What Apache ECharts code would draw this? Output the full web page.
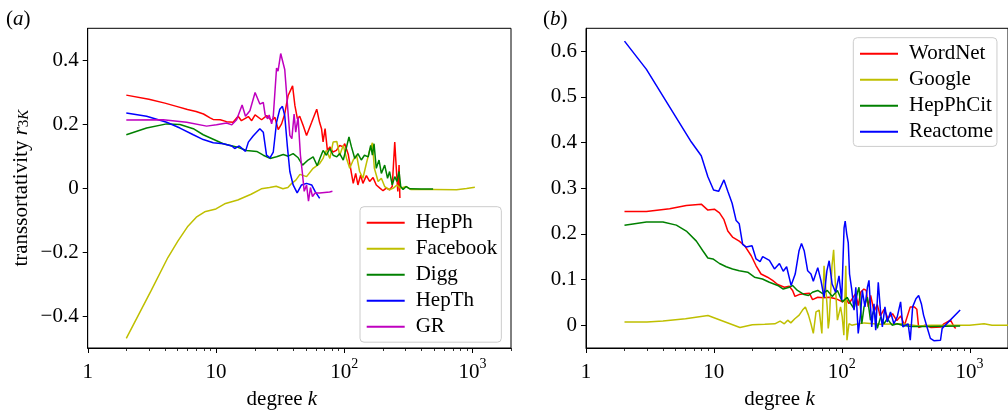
<!DOCTYPE html>
<html><head><meta charset="utf-8">
<script src="https://cdn.jsdelivr.net/npm/echarts@6/dist/echarts.min.js"></script>
<style>html,body{margin:0;padding:0;background:#fff;} #c{width:1008px;height:415px;}</style>
</head><body><div id="c"></div>
<script>
// ---------- data ----------
const xMajorTicks = [1, 10, 100, 1000];
const xMajorLabels = ['1', '10', '10{sup|2}', '10{sup|3}'];
const xMinorTicks = [2,3,4,5,6,7,8,9,20,30,40,50,60,70,80,90,200,300,400,500,600,700,800,900,2000];
const yTicksA = [-0.4, -0.2, 0, 0.2, 0.4];
const yTicksB = [0, 0.1, 0.2, 0.3, 0.4, 0.5, 0.6];
const namesA = ['HepPh', 'Facebook', 'Digg', 'HepTh', 'GR'];
const namesB = ['WordNet', 'Google', 'HepPhCit', 'Reactome'];

const hepPh = [[2,0.291],[3,0.278],[4,0.266],[5,0.255],[6,0.246],[7,0.24],[8,0.232],[9,0.22],[9.5,0.215],[10.8,0.214],[12.1,0.208],[13.6,0.206],[14.9,0.225],[15.8,0.211],[17.9,0.224],[19,0.211],[20.2,0.229],[22.7,0.214],[24.9,0.227],[27.2,0.211],[28.8,0.222],[30.6,0.183],[32.5,0.201],[34.4,0.232],[36.5,0.289],[39.6,0.32],[41.3,0.258],[43.2,0.217],[45,0.225],[47.9,0.196],[50.9,0.165],[55.8,0.206],[61.1,0.247],[64.3,0.206],[66.6,0.186],[68.5,0.145],[71,0.186],[74,0.118],[77.4,0.129],[81.8,0.113],[87,0.118],[92.3,0.134],[98,0.129],[101,0.139],[107.7,0.105],[114,0.046],[117.7,0.015],[123,0.046],[128,0.01],[134.5,0.041],[140,0.015],[149,0.039],[158,0.021],[168,0.033],[178,0.01],[190,0],[201,-0.008],[213,0],[226,-0.005],[237,0.005],[248,0.144],[255,0.062],[262,-0.01],[268,0.072],[272,-0.031]];
const facebook = [[2,-0.47],[3.13,-0.32],[4.22,-0.217],[5.06,-0.165],[6.05,-0.119],[7.03,-0.091],[8.17,-0.074],[10,-0.065],[11.7,-0.049],[14.8,-0.037],[18.8,-0.019],[22.6,-0.002],[26.2,0.002],[29.5,0.006],[33.3,-0.002],[36.4,0.002],[39,0.015],[42,0.025],[45.2,0.043],[50.9,0.036],[57.3,0.062],[64.4,0.077],[68.5,0.093],[70.5,0.108],[72.7,0.118],[77.4,0.093],[82,0.144],[87.6,0.146],[92.3,0.103],[98.4,0.134],[104.4,0.093],[110.5,0.062],[117.7,0.088],[125,0.103],[132,0.052],[140,0.031],[149,0.077],[158,0.118],[166,0.142],[172,0.062],[184,0.021],[195,0.031],[207,0.005],[226,-0.005],[242,0],[258,0.01],[274,0],[305,0.005],[330,-0.004],[500,-0.004],[752,-0.005],[900,-0.001],[1045,0.003]];
const digg = [[2,0.167],[2.88,0.188],[4.13,0.201],[5.24,0.199],[6.66,0.186],[7.96,0.167],[9.53,0.153],[11.4,0.139],[14.5,0.129],[17.3,0.118],[20.8,0.115],[23.4,0.103],[26.4,0.093],[29.7,0.098],[33.5,0.105],[36.6,0.1],[40,0.108],[43.8,0.095],[47.4,0.072],[52.3,0.088],[57.3,0.098],[61.6,0.07],[65,0.095],[68.5,0.118],[72.7,0.103],[77.4,0.124],[82,0.103],[87.6,0.098],[92.3,0.108],[98.4,0.088],[104.4,0.129],[109,0.16],[114,0.129],[121,0.093],[128,0.108],[136,0.088],[144,0.103],[154,0.098],[161,0.134],[166,0.103],[171,0.139],[178,0.062],[187,0.088],[195,0.046],[207,0.072],[218,0.031],[226,0.052],[237,0.01],[248,0.036],[258,0.021],[268,0.052],[276,0.005],[288,-0.004],[305,0.005],[325,-0.002],[400,-0.003],[494,-0.003]];
const hepTh = [[2,0.235],[2.88,0.225],[4.13,0.206],[5.24,0.188],[6.66,0.167],[7.96,0.152],[9.53,0.142],[11.4,0.139],[13.3,0.132],[14,0.124],[15.2,0.132],[17,0.115],[17.9,0.144],[19.5,0.163],[22,0.186],[23.4,0.175],[24.8,0.103],[26.4,0.095],[28,0.113],[29.7,0.206],[31.5,0.247],[33,0.256],[34.4,0.227],[36,0.134],[37.7,0.052],[40,0.01],[43,-0.015],[46.5,0.01],[50.9,0.015],[55.8,0.01],[59.3,-0.01],[64.4,-0.032]];
const gr = [[2,0.213],[3.88,0.214],[5.91,0.206],[8.46,0.194],[10.1,0.198],[12.1,0.204],[13.3,0.198],[14.5,0.214],[16,0.26],[17,0.225],[18.4,0.242],[20.2,0.299],[20.7,0.304],[22,0.263],[23.4,0.268],[24.2,0.229],[25.3,0.217],[26,0.229],[27.2,0.201],[28,0.225],[29.7,0.376],[30.5,0.366],[32,0.421],[33,0.418],[34.4,0.371],[36,0.268],[37.7,0.165],[39.1,0.155],[40.7,0.232],[41.9,0.175],[43.7,0.222],[45.6,0.103],[47.4,0.041],[48.8,-0.01],[50.9,0.01],[52.7,-0.041],[54.6,0.002],[56.6,-0.026],[59.3,-0.015],[64.4,-0.015],[77,-0.012],[81,-0.01]];

const wordNet = [[2,0.249],[2.97,0.249],[4.51,0.255],[6.09,0.262],[7.97,0.265],[8.98,0.252],[10.1,0.254],[11.07,0.246],[12,0.231],[12.86,0.206],[14,0.193],[15.8,0.184],[17.4,0.174],[19.6,0.152],[21.4,0.13],[23.4,0.112],[26.3,0.105],[28.8,0.098],[31.6,0.089],[35.6,0.083],[38.9,0.085],[41.3,0.076],[43.1,0.063],[46.4,0.067],[50.9,0.069],[55.8,0.07],[59.2,0.056],[65,0.061],[72,0.06],[79.8,0.061],[90,0.058],[101.3,0.051],[107.7,0.058],[114,0.047],[121,0.058],[128.6,0.069],[134.7,0.043],[140.6,0.072],[149,0.079],[155.6,0.076],[161.4,0.04],[168.6,0.065],[179,0.03],[190,0.045],[200,0.02],[215,0.035],[230,0.015],[250,0.025],[270,0.01],[290,0.02],[310,0],[344,0.04],[370,0.04],[387,0.035],[400,-0.005],[450,0],[500,-0.005],[600,-0.004],[630,0.003],[710,0.011],[735,0.007],[760,-0.004],[780,-0.007]];
const google = [[2,0.007],[3,0.007],[4,0.009],[6,0.014],[9,0.021],[12,0.008],[16,-0.005],[20,0.001],[25,0.002],[30,0.003],[33,0.009],[35.6,0.003],[37.8,0.011],[40,0.005],[43,0.014],[46.5,0.022],[49.4,0.033],[52,0.04],[55,0.022],[57.5,0.003],[60,-0.018],[63,0.029],[66.7,0.033],[70,-0.018],[72.8,0.13],[75,0.083],[77,0.04],[78.5,-0.007],[80,0.011],[84,0.13],[86.5,0.165],[90,0.07],[92.6,0.011],[98,0.04],[101,0.018],[104,-0.022],[107.7,0.13],[110,-0.033],[114,0.003],[120,0],[130,0.002],[150,0.005],[200,0.002],[300,0.003],[400,-0.002],[500,0],[1000,0],[1300,0.003],[1500,0],[2000,0]];
const hepPhCit = [[2,0.219],[2.97,0.226],[4,0.226],[5.09,0.219],[6.09,0.206],[7.3,0.184],[8.2,0.163],[8.98,0.147],[9.84,0.145],[11.07,0.135],[12.5,0.128],[14,0.123],[15.8,0.119],[18.4,0.116],[20.8,0.105],[24,0.101],[27.2,0.094],[31.6,0.087],[34.9,0.079],[38.9,0.083],[41.3,0.087],[45.1,0.076],[50.9,0.067],[55,0.065],[59.1,0.072],[65,0.076],[71,0.069],[77.2,0.076],[84.3,0.063],[92.6,0.076],[101.3,0.051],[110.4,0.061],[117.6,0.047],[125,0.036],[133,0.072],[136.6,0.083],[143.6,0.003],[149.6,0.04],[159,0.061],[168,0.011],[179,0.033],[190,-0.007],[202,0.018],[214,0.003],[227,0.014],[248,0],[272,0.003],[298,0],[350,-0.003],[500,-0.003],[845,-0.002]];
const reactome = [[2,0.622],[2.97,0.56],[4.79,0.466],[6.67,0.401],[7.97,0.371],[8.98,0.325],[9.95,0.296],[10.9,0.293],[12,0.318],[12.86,0.293],[13.9,0.267],[14.95,0.229],[15.8,0.222],[16.8,0.177],[17.9,0.171],[19.9,0.174],[21.4,0.145],[23,0.139],[24.1,0.15],[27.2,0.142],[29.8,0.123],[32.6,0.135],[34.9,0.118],[37.1,0.128],[40.2,0.087],[43.3,0.112],[46.4,0.163],[48.5,0.179],[50.9,0.163],[54.2,0.119],[57.5,0.112],[60,0.096],[65,0.126],[68.8,0.098],[72.8,0.061],[76.6,0.119],[79.8,0.141],[84.2,0.09],[89.6,0.072],[95.3,0.108],[100,0.055],[104.4,0.213],[106.5,0.228],[109.5,0.2],[112.6,0.18],[115.2,0.112],[119.6,0.08],[125,0.033],[129,0.083],[134.7,-0.018],[140.6,0.025],[145,0.076],[152,0.04],[159,0.083],[163.5,0.098],[171.8,-0.004],[179,0.047],[184.6,-0.011],[193.3,0.094],[202,0.025],[208,-0.004],[218,0.04],[227,0.007],[241,0.029],[256,0.003],[272,0.018],[289,0.051],[301,-0.004],[316,0],[331,0.003],[344,-0.033],[359,0.04],[381,0.058],[400,0.065],[420,0.047],[437,0.022],[465,-0.004],[494,-0.029],[526,-0.034],[593,-0.033],[611,-0.007],[845,0.033]];

const seriesA = [hepPh, facebook, digg, hepTh, gr];
const seriesB = [wordNet, google, hepPhCit, reactome];
const colorsA = ['#ff0000', '#bfbf00', '#008000', '#0000ff', '#bf00bf'];
const colorsB = ['#ff0000', '#bfbf00', '#008000', '#0000ff'];

// ---------- styling ----------
const FONT = 'Liberation Serif';
const FS = 21;
const axisCol = '#000';
const X_MIN = 1, X_MAX = 2000;
const Y_A = [-0.5, 0.5], Y_B = [-0.05, 0.65];
const fmtY = v => (v < 0 ? '\u2212' + String(Math.abs(v)) : String(v));
const fmtX = v => { const i = xMajorTicks.indexOf(v); return i >= 0 ? xMajorLabels[i] : ''; };
const xRich = {
  b: { fontFamily: FONT, fontSize: FS, color: '#000', lineHeight: 26, verticalAlign: 'bottom' },
  sup: { fontFamily: FONT, fontSize: 14, color: '#000', lineHeight: 14, verticalAlign: 'top' }
};
const xLabel = v => { const s = fmtX(v); const p = s.indexOf('{sup|'); return p >= 0 ? '{b|' + s.slice(0, p) + '}' + s.slice(p) : '{b|' + s + '}'; };

function majorX(grid) {
  return {
    type: 'log', logBase: 10, gridIndex: grid, min: X_MIN, max: X_MAX, position: 'bottom',
    axisLine: { show: true, onZero: false, lineStyle: { color: axisCol, width: 1 } },
    axisTick: { show: false },
    axisLabel: { customValues: xMajorTicks, margin: 9, formatter: xLabel, rich: xRich, color: '#000' },
    splitLine: { show: false },
    name: 'degree {i|k}', nameLocation: 'middle', nameGap: 41,
    nameTextStyle: { fontFamily: FONT, fontSize: FS, color: '#000', padding: [0, 35, 0, 0],
      rich: { i: { fontFamily: FONT, fontSize: FS, fontStyle: 'italic', color: '#000' } } }
  };
}
function yAx(grid, ext, ticks, name) {
  const o = {
    type: 'value', gridIndex: grid, min: ext[0], max: ext[1],
    axisLine: { show: true, onZero: false, lineStyle: { color: axisCol, width: 1 } },
    axisTick: { show: false },
    axisLabel: { customValues: ticks, formatter: fmtY, margin: 9, fontFamily: FONT, fontSize: FS, color: '#000' },
    splitLine: { show: false }
  };
  if (name) {
    o.name = name; o.nameLocation = 'middle'; o.nameGap = 56;
    o.nameTextStyle = { fontFamily: FONT, fontSize: FS, color: '#000',
      rich: {
        i: { fontFamily: FONT, fontSize: FS, fontStyle: 'italic', color: '#000' },
        sub: { fontFamily: FONT, fontSize: 15, color: '#000', verticalAlign: 'bottom', lineHeight: 15 },
        subi: { fontFamily: FONT, fontSize: 15, fontStyle: 'italic', color: '#000', verticalAlign: 'bottom', lineHeight: 15 }
      } };
  }
  return o;
}
function legendCfg(names, left, top, padding) {
  return {
    orient: 'vertical', left: left, top: top, data: names, icon: 'rect',
    itemWidth: 38, itemHeight: 2, itemGap: 5, padding: padding,
    backgroundColor: 'rgba(255,255,255,0.8)', borderColor: '#cccccc', borderWidth: 1, borderRadius: 4,
    textStyle: { fontFamily: FONT, fontSize: FS, color: '#000', padding: [0, 0, 0, 6] },
    selectedMode: false
  };
}
// tick marks drawn through the axes' own scales (api.coord)
function tickSeries(xIdx, yIdx, data, dir, len, lw) {
  return {
    type: 'custom', xAxisIndex: xIdx, yAxisIndex: yIdx, data: data, clip: false, silent: true, z: 5,
    renderItem: (params, api) => {
      const p = api.coord([api.value(0), api.value(1)]);
      const shape = dir === 'x'
        ? { x1: Math.round(p[0]) + 0.5, y1: p[1], x2: Math.round(p[0]) + 0.5, y2: p[1] + len }
        : { x1: p[0] - len, y1: Math.round(p[1]) + 0.5, x2: p[0], y2: Math.round(p[1]) + 0.5 };
      return { type: 'line', shape: shape, style: { stroke: axisCol, lineWidth: lw } };
    }
  };
}

const series = [];
namesA.forEach((n, i) => series.push({
  name: n, type: 'line', xAxisIndex: 0, yAxisIndex: 0, data: seriesA[i],
  showSymbol: false, symbol: 'none', color: colorsA[i], lineStyle: { width: 1.5, color: colorsA[i] }, animation: false
}));
namesB.forEach((n, i) => series.push({
  name: n, type: 'line', xAxisIndex: 1, yAxisIndex: 1, data: seriesB[i],
  showSymbol: false, symbol: 'none', color: colorsB[i], lineStyle: { width: 1.5, color: colorsB[i] }, animation: false
}));
[[0, Y_A, yTicksA], [1, Y_B, yTicksB]].forEach(([g, ext, yt]) => {
  series.push(tickSeries(g, g, xMajorTicks.map(v => [v, ext[0]]), 'x', 5, 1));
  series.push(tickSeries(g, g, xMinorTicks.map(v => [v, ext[0]]), 'x', 3, 0.8));
  series.push(tickSeries(g, g, yt.map(v => [X_MIN, v]), 'y', 5, 1));
});

const option = {
  backgroundColor: '#fff',
  animation: false,
  title: [
    { text: '({i|a})', left: 6, top: 9, padding: 0,
      textStyle: { fontFamily: FONT, fontSize: FS, fontWeight: 'normal', color: '#000',
        rich: { i: { fontFamily: FONT, fontSize: FS, fontStyle: 'italic', color: '#000' } } } },
    { text: '({i|b})', left: 543, top: 9, padding: 0,
      textStyle: { fontFamily: FONT, fontSize: FS, fontWeight: 'normal', color: '#000',
        rich: { i: { fontFamily: FONT, fontSize: FS, fontStyle: 'italic', color: '#000' } } } }
  ],
  grid: [
    { left: 87.7, top: 28.3, width: 423.3, height: 323.4, show: true, borderColor: axisCol, borderWidth: 1, backgroundColor: 'transparent' },
    { left: 586, top: 28.3, width: 423.3, height: 323.4, show: true, borderColor: axisCol, borderWidth: 1, backgroundColor: 'transparent' }
  ],
  xAxis: [majorX(0), majorX(1)],
  yAxis: [
    yAx(0, Y_A, yTicksA, 'transsortativity {i|r}{sub|3}{subi|K}'),
    yAx(1, Y_B, yTicksB, null)
  ],
  legend: [
    legendCfg(namesA, 360, 206.7, [5.5, 4, 5, 6.7]),
    legendCfg(namesB, 853.3, 37.7, [5.5, 4, 4.2, 6.7])
  ],
  series: series
};

const chart = echarts.init(document.getElementById('c'), null, { renderer: 'canvas' });
chart.setOption(option);
</script></body></html>
